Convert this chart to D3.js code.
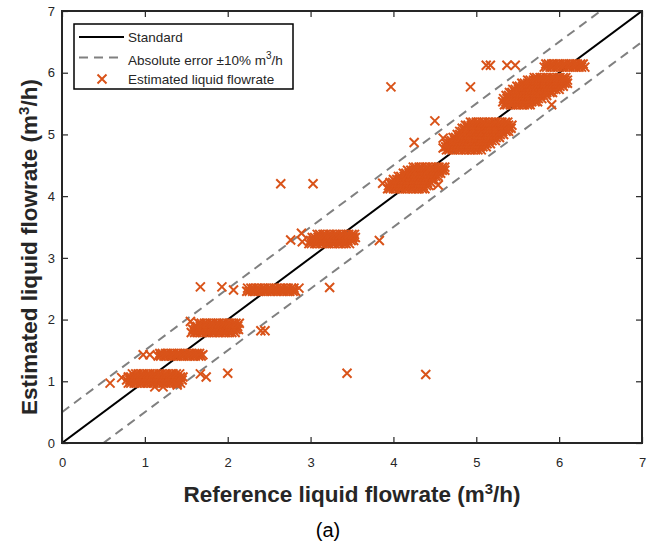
<!DOCTYPE html>
<html>
<head>
<meta charset="utf-8">
<script src="https://cdn.jsdelivr.net/npm/d3@7"></script>
<style>
  body { margin: 0; background: #fff; }
  svg { display: block; font-family: "Liberation Sans", Arial, Helvetica, sans-serif; }
</style>
</head>
<body>
<div id="chart"></div>
<script>
// axis ticks
const xTicks = [0, 1, 2, 3, 4, 5, 6, 7]
const yTicks = [0, 1, 2, 3, 4, 5, 6, 7]

// reference lines: standard y = x, absolute error band y = x +/- 0.5
const standardLine = [[0, 0], [7, 7]]
const upperError = [[0, 0.5], [6.5, 7]]
const lowerError = [[0.5, 0], [7, 6.5]]

// estimated liquid flowrate, dense samples per flow level
// each row: [estimated value, [reference values...]]
const level1 = [
  [0.97, [0.80, 0.83, 0.87, 0.90, 0.94, 0.97, 1.01, 1.04, 1.08, 1.11, 1.15, 1.18, 1.22, 1.25, 1.29, 1.32, 1.36, 1.39, 1.43]],
  [1.02, [0.78, 0.82, 0.85, 0.89, 0.92, 0.96, 0.99, 1.03, 1.06, 1.10, 1.13, 1.17, 1.20, 1.24, 1.27, 1.31, 1.34, 1.38, 1.41, 1.45]],
  [1.07, [0.80, 0.83, 0.87, 0.90, 0.94, 0.97, 1.01, 1.04, 1.08, 1.11, 1.15, 1.18, 1.22, 1.25, 1.29, 1.32, 1.36, 1.39, 1.43, 1.46]],
  [1.12, [0.85, 0.89, 0.92, 0.96, 0.99, 1.03, 1.06, 1.10, 1.13, 1.17, 1.20, 1.24, 1.27, 1.31, 1.34, 1.38, 1.42]]
]
const level2 = [
  [1.41, [1.16, 1.19, 1.23, 1.26, 1.30, 1.33, 1.37, 1.40, 1.44, 1.47, 1.51, 1.54, 1.58, 1.61, 1.65, 1.68]],
  [1.45, [1.18, 1.21, 1.25, 1.28, 1.32, 1.35, 1.39, 1.42, 1.46, 1.49, 1.53, 1.56, 1.60, 1.63, 1.66]]
]
const level3 = [
  [1.79, [1.56, 1.60, 1.63, 1.67, 1.70, 1.74, 1.77, 1.81, 1.84, 1.88, 1.91, 1.95, 1.98, 2.02, 2.05, 2.09]],
  [1.84, [1.58, 1.61, 1.65, 1.68, 1.72, 1.75, 1.79, 1.82, 1.86, 1.89, 1.93, 1.96, 2.00, 2.03, 2.07, 2.10, 2.13]],
  [1.89, [1.60, 1.63, 1.67, 1.70, 1.74, 1.77, 1.81, 1.84, 1.88, 1.91, 1.95, 1.98, 2.02, 2.05, 2.09, 2.12]],
  [1.94, [1.65, 1.68, 1.72, 1.75, 1.79, 1.82, 1.86, 1.89, 1.93, 1.96, 2.00, 2.03, 2.07, 2.10, 2.14]]
]
const level4 = [
  [2.46, [2.23, 2.26, 2.30, 2.33, 2.37, 2.40, 2.44, 2.47, 2.51, 2.54, 2.58, 2.61, 2.65, 2.68, 2.72, 2.75, 2.79, 2.82]],
  [2.51, [2.24, 2.28, 2.31, 2.35, 2.38, 2.42, 2.45, 2.49, 2.52, 2.56, 2.59, 2.63, 2.66, 2.70, 2.73, 2.77, 2.80]]
]
const level5 = [
  [3.23, [2.98, 3.01, 3.05, 3.08, 3.12, 3.15, 3.19, 3.22, 3.26, 3.29, 3.33, 3.36, 3.40, 3.43, 3.47]],
  [3.28, [3.00, 3.03, 3.07, 3.10, 3.14, 3.17, 3.21, 3.24, 3.28, 3.31, 3.35, 3.38, 3.42, 3.45, 3.49, 3.52]],
  [3.33, [3.02, 3.05, 3.09, 3.12, 3.16, 3.19, 3.23, 3.26, 3.30, 3.33, 3.37, 3.40, 3.44, 3.47, 3.51, 3.54]],
  [3.38, [3.08, 3.11, 3.15, 3.18, 3.22, 3.25, 3.29, 3.32, 3.36, 3.39, 3.43, 3.46, 3.50, 3.53]]
]
const level6 = [
  [4.12, [3.93, 3.96, 4.00, 4.03, 4.07, 4.10, 4.14, 4.17, 4.21, 4.24, 4.28, 4.31, 4.35, 4.38]],
  [4.17, [3.94, 3.98, 4.01, 4.05, 4.08, 4.12, 4.15, 4.19, 4.22, 4.26, 4.29, 4.33, 4.36, 4.40, 4.43]],
  [4.22, [3.96, 3.99, 4.03, 4.06, 4.10, 4.13, 4.17, 4.20, 4.24, 4.27, 4.31, 4.34, 4.38, 4.41, 4.45]],
  [4.27, [4.00, 4.04, 4.07, 4.11, 4.14, 4.18, 4.21, 4.25, 4.28, 4.32, 4.35, 4.39, 4.42, 4.46, 4.49]],
  [4.32, [4.06, 4.09, 4.13, 4.16, 4.20, 4.23, 4.27, 4.30, 4.34, 4.37, 4.41, 4.44, 4.48, 4.51, 4.54]],
  [4.37, [4.12, 4.15, 4.19, 4.22, 4.26, 4.29, 4.33, 4.36, 4.40, 4.43, 4.47, 4.50, 4.54, 4.57]],
  [4.42, [4.17, 4.21, 4.24, 4.28, 4.31, 4.35, 4.38, 4.42, 4.45, 4.49, 4.52, 4.56, 4.59, 4.62]],
  [4.47, [4.24, 4.27, 4.31, 4.34, 4.38, 4.41, 4.45, 4.48, 4.52, 4.55, 4.59, 4.62]]
]
const level7 = [
  [4.75, [4.64, 4.67, 4.71, 4.74, 4.78, 4.81, 4.85, 4.88, 4.92, 4.95, 4.99, 5.02, 5.06]],
  [4.80, [4.63, 4.66, 4.70, 4.73, 4.77, 4.80, 4.84, 4.87, 4.91, 4.94, 4.98, 5.01, 5.05, 5.08, 5.12]],
  [4.85, [4.64, 4.68, 4.71, 4.75, 4.78, 4.82, 4.85, 4.89, 4.92, 4.96, 4.99, 5.03, 5.06, 5.10, 5.13, 5.17]],
  [4.90, [4.67, 4.70, 4.74, 4.77, 4.81, 4.84, 4.88, 4.91, 4.95, 4.98, 5.02, 5.05, 5.09, 5.12, 5.16, 5.19, 5.23]],
  [4.95, [4.72, 4.75, 4.79, 4.82, 4.86, 4.89, 4.93, 4.96, 5.00, 5.03, 5.07, 5.10, 5.14, 5.17, 5.21, 5.24, 5.28]],
  [5.00, [4.77, 4.80, 4.84, 4.87, 4.91, 4.94, 4.98, 5.01, 5.05, 5.08, 5.12, 5.15, 5.19, 5.22, 5.26, 5.29, 5.33]],
  [5.05, [4.80, 4.83, 4.87, 4.90, 4.94, 4.97, 5.01, 5.04, 5.08, 5.11, 5.15, 5.18, 5.22, 5.25, 5.29, 5.32, 5.36, 5.39]],
  [5.10, [4.83, 4.86, 4.90, 4.93, 4.97, 5.00, 5.04, 5.07, 5.11, 5.14, 5.18, 5.21, 5.25, 5.28, 5.32, 5.35, 5.39, 5.42]],
  [5.15, [4.87, 4.90, 4.94, 4.97, 5.01, 5.04, 5.08, 5.11, 5.15, 5.18, 5.22, 5.25, 5.29, 5.32, 5.36, 5.39, 5.43]],
  [5.20, [4.93, 4.96, 5.00, 5.03, 5.07, 5.10, 5.14, 5.17, 5.21, 5.24, 5.28, 5.31, 5.35, 5.38]]
]
const level8 = [
  [5.48, [5.34, 5.37, 5.41, 5.44, 5.48, 5.51, 5.55, 5.58, 5.62, 5.65]],
  [5.53, [5.32, 5.36, 5.39, 5.43, 5.46, 5.50, 5.53, 5.57, 5.60, 5.64, 5.67, 5.71, 5.74]],
  [5.58, [5.33, 5.37, 5.40, 5.44, 5.47, 5.51, 5.54, 5.58, 5.61, 5.65, 5.68, 5.72, 5.75, 5.79]],
  [5.63, [5.36, 5.39, 5.43, 5.46, 5.50, 5.53, 5.57, 5.60, 5.64, 5.67, 5.71, 5.74, 5.78, 5.81, 5.85]],
  [5.68, [5.40, 5.43, 5.47, 5.50, 5.54, 5.57, 5.61, 5.64, 5.68, 5.71, 5.75, 5.78, 5.82, 5.85, 5.89, 5.92]],
  [5.73, [5.44, 5.47, 5.51, 5.54, 5.58, 5.61, 5.65, 5.68, 5.72, 5.75, 5.79, 5.82, 5.86, 5.89, 5.93, 5.96, 6.00]],
  [5.78, [5.49, 5.52, 5.56, 5.59, 5.63, 5.66, 5.70, 5.73, 5.77, 5.80, 5.84, 5.87, 5.91, 5.94, 5.98, 6.01, 6.05]],
  [5.83, [5.55, 5.58, 5.62, 5.65, 5.69, 5.72, 5.76, 5.79, 5.83, 5.86, 5.90, 5.93, 5.97, 6.00, 6.04, 6.07, 6.10]],
  [5.88, [5.62, 5.65, 5.69, 5.72, 5.76, 5.79, 5.83, 5.86, 5.90, 5.93, 5.97, 6.00, 6.04, 6.07, 6.10]],
  [5.92, [5.70, 5.73, 5.77, 5.80, 5.84, 5.87, 5.91, 5.94, 5.98, 6.01, 6.05, 6.08]]
]
const level9 = [
  [6.09, [5.82, 5.85, 5.89, 5.92, 5.96, 5.99, 6.03, 6.06, 6.10, 6.13, 6.17, 6.20, 6.24, 6.27, 6.31]],
  [6.14, [5.84, 5.87, 5.91, 5.94, 5.98, 6.01, 6.05, 6.08, 6.12, 6.15, 6.19, 6.22, 6.26, 6.29]]
]
// scattered single samples, [reference, estimated]
const outliers = [
  [0.58, 0.97], [0.72, 1.06], [1.12, 0.91], [1.22, 0.91], [1.39, 0.94], [1.67, 1.12], [1.74, 1.07], [2.00, 1.13],
  [0.98, 1.43], [1.06, 1.43], [1.70, 1.43],
  [1.55, 1.97], [2.40, 1.82], [2.45, 1.82],
  [1.67, 2.53], [1.93, 2.53], [2.07, 2.48], [2.86, 2.51], [3.23, 2.52],
  [2.76, 3.29], [2.89, 3.40], [2.90, 3.26], [3.83, 3.28],
  [3.44, 1.13], [4.39, 1.11],
  [2.64, 4.20], [3.03, 4.20], [3.87, 4.21], [4.54, 4.18],
  [4.25, 4.87], [4.50, 5.22], [4.60, 4.94], [4.60, 4.78],
  [3.97, 5.77], [4.93, 5.77], [5.91, 5.48],
  [5.12, 6.12], [5.17, 6.12], [5.37, 6.12], [5.47, 6.12]
]

const levels = [level1, level2, level3, level4, level5, level6, level7, level8, level9]
const estimated = levels.flat()
  .flatMap(([est, refs]) => refs.map(ref => [ref, est]))
  .concat(outliers)

const width = 667
const height = 550
const margin = { top: 11, right: 25, bottom: 107, left: 62 }
const plotW = width - margin.left - margin.right
const plotH = height - margin.top - margin.bottom

const ORANGE = '#d95319'
const AXIS = '#262626'

const svg = d3.select('#chart').append('svg')
  .attr('width', width)
  .attr('height', height)

const x = d3.scaleLinear().domain([0, 7]).range([margin.left, margin.left + plotW])
const y = d3.scaleLinear().domain([0, 7]).range([margin.top + plotH, margin.top])

svg.append('clipPath').attr('id', 'plot-clip')
  .append('rect').attr('x', x(0)).attr('y', y(7)).attr('width', plotW).attr('height', plotH)

const line = d3.line().x(d => x(d[0])).y(d => y(d[1]))
const plot = svg.append('g').attr('clip-path', 'url(#plot-clip)')

plot.append('path').attr('d', line(standardLine))
  .attr('fill', 'none').attr('stroke', '#000').attr('stroke-width', 2)
for (const band of [upperError, lowerError]) {
  plot.append('path').attr('d', line(band))
    .attr('fill', 'none').attr('stroke', '#808080').attr('stroke-width', 2)
    .attr('stroke-dasharray', '9,6')
}

// x markers
const m = 4.5
function cross(sel) {
  sel.append('path')
    .attr('d', `M${-m},${-m}L${m},${m}M${-m},${m}L${m},${-m}`)
    .attr('stroke', ORANGE).attr('stroke-width', 2).attr('fill', 'none')
}
plot.selectAll('g.pt').data(estimated).join('g')
  .attr('class', 'pt')
  .attr('transform', d => `translate(${x(d[0])},${y(d[1])})`)
  .call(cross)

// axes: ticks pointing inward on all four sides
function styleAxis(g) {
  g.select('.domain').remove()
  g.selectAll('.tick line').attr('stroke', AXIS).attr('stroke-width', 1.2)
  g.selectAll('.tick text').attr('fill', AXIS).style('font-size', '13px')
}
svg.append('g').attr('transform', `translate(0,${y(0)})`)
  .call(d3.axisBottom(x).tickValues(xTicks).tickFormat(d3.format('d')).tickSize(-6).tickPadding(14.5))
  .call(styleAxis)
svg.append('g').attr('transform', `translate(0,${y(7)})`)
  .call(d3.axisTop(x).tickValues(xTicks).tickFormat('').tickSize(-6))
  .call(styleAxis)
svg.append('g').attr('transform', `translate(${x(0)},0)`)
  .call(d3.axisLeft(y).tickValues(yTicks).tickFormat(d3.format('d')).tickSize(-6).tickPadding(7))
  .call(styleAxis)
svg.append('g').attr('transform', `translate(${x(7)},0)`)
  .call(d3.axisRight(y).tickValues(yTicks).tickFormat('').tickSize(-6))
  .call(styleAxis)

svg.append('rect')
  .attr('x', x(0)).attr('y', y(7)).attr('width', plotW).attr('height', plotH)
  .attr('fill', 'none').attr('stroke', AXIS).attr('stroke-width', 2)

// axis titles
function unitLabel(t, label) {
  t.append('tspan').text(label + ' (m')
  t.append('tspan').attr('dy', -8).style('font-size', '15px').text('3')
  t.append('tspan').attr('dy', 8).text('/h)')
}
svg.append('text')
  .attr('x', (x(0) + x(7)) / 2).attr('y', 502)
  .attr('text-anchor', 'middle').attr('fill', AXIS)
  .style('font-size', '22.5px').style('font-weight', 'bold')
  .call(unitLabel, 'Reference liquid flowrate')
svg.append('text')
  .attr('transform', 'translate(37,247) rotate(-90)')
  .attr('text-anchor', 'middle').attr('fill', AXIS)
  .style('font-size', '22.5px').style('font-weight', 'bold')
  .call(unitLabel, 'Estimated liquid flowrate')

svg.append('text')
  .attr('x', 328).attr('y', 537)
  .attr('text-anchor', 'middle').attr('fill', '#000')
  .style('font-size', '20px')
  .text('(a)')

// legend
const legend = svg.append('g')
legend.append('rect')
  .attr('x', 74).attr('y', 24).attr('width', 219).attr('height', 65)
  .attr('fill', '#fff').attr('stroke', '#000').attr('stroke-width', 1.5)

legend.append('line').attr('x1', 79).attr('x2', 124).attr('y1', 37).attr('y2', 37)
  .attr('stroke', '#000').attr('stroke-width', 2)
legend.append('line').attr('x1', 79).attr('x2', 124).attr('y1', 57.5).attr('y2', 57.5)
  .attr('stroke', '#808080').attr('stroke-width', 2).attr('stroke-dasharray', '9,6')
legend.append('g').attr('transform', 'translate(102,79)').call(cross)

const legendText = legend.append('g').attr('fill', AXIS).style('font-size', '13.5px')
legendText.append('text').attr('x', 128).attr('y', 42).text('Standard')
const abs = legendText.append('text').attr('x', 128).attr('y', 65)
abs.append('tspan').text('Absolute error \u00b110% m')
abs.append('tspan').attr('dy', -6).style('font-size', '10px').text('3')
abs.append('tspan').attr('dy', 6).text('/h')
legendText.append('text').attr('x', 128).attr('y', 84).text('Estimated liquid flowrate')
</script>
</body>
</html>
